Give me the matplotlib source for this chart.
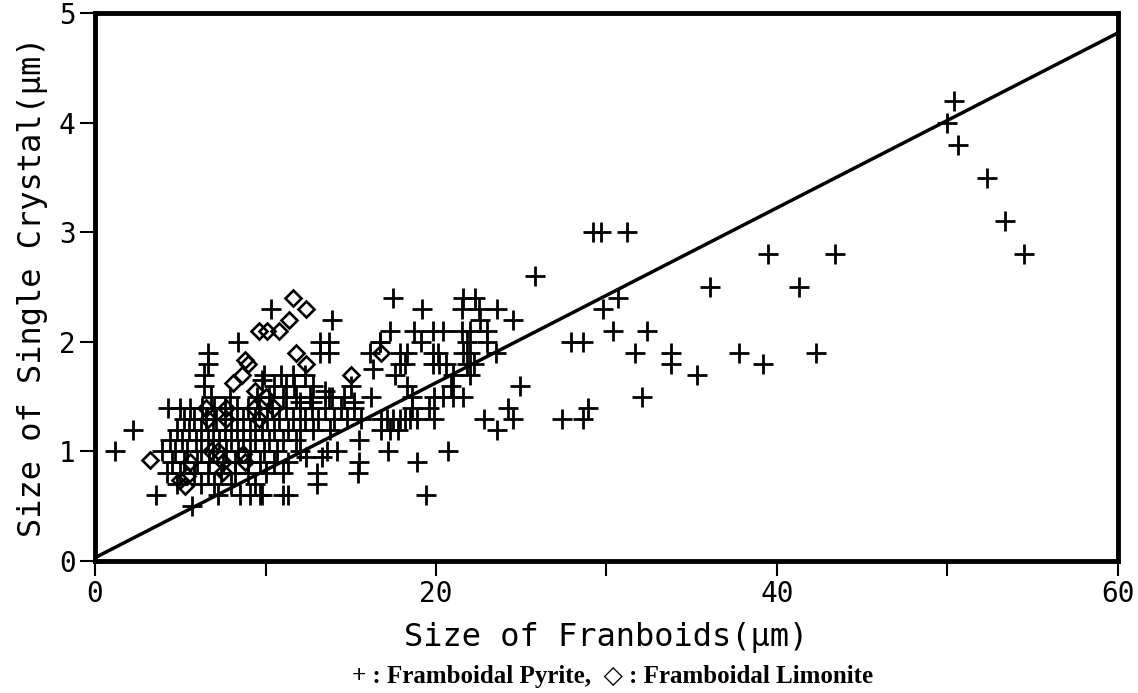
import matplotlib
matplotlib.use("Agg")
import matplotlib.pyplot as plt

# ---------------- data ----------------
pyrite_x = [
    1.2, 2.2, 3.6, 5.7,
    25.8, 29.2, 29.7, 31.2, 36.1, 30.7, 29.8, 30.4, 32.4, 31.7, 33.8, 33.8, 35.3, 32.1,
    27.9, 28.6, 27.4, 28.6, 28.9, 37.8, 39.5, 43.4, 41.3, 39.2, 42.3,
    53.4, 54.5, 50.4, 50.0, 50.6, 52.3,
    17.5, 21.6, 22.3, 19.2, 21.5, 22.5, 23.6, 24.5, 22.6,
    17.3, 18.7, 19.8, 20.4, 21.5, 22.0, 23.0,
    16.7, 19.1, 21.8, 23.0,
    17.9, 18.3, 19.8, 20.1, 21.6, 22.0, 23.5,
    17.9, 18.2, 19.8, 20.2, 20.6, 21.8, 22.2,
    17.6, 21.0, 22.0,
    18.3, 20.9, 24.9,
    18.6, 19.9, 20.4, 21.0, 21.6,
    18.6, 19.6, 24.2,
    16.8, 17.1, 17.5, 17.9, 18.2, 18.5, 18.9, 19.9, 22.8, 24.5,
    16.8, 17.3, 17.8, 23.6,
    15.5, 17.2, 20.7, 18.9, 15.5, 15.4, 19.4,
    10.3, 13.9, 13.2, 13.7, 13.2, 13.7, 16.1, 16.7, 16.3,
    12.3, 11.7, 13.5, 13.7, 12.7, 12.0, 15.0, 15.2, 16.2,
    14.2, 13.6, 13.0, 13.0, 11.3, 9.7, 12.4, 13.3, 12.0,
    8.4, 6.6, 6.6,
    6.4, 9.9, 10.9, 11.6,
    6.4, 9.8, 10.5, 11.2, 12.8,
    6.8, 7.9, 9.5, 10.2, 11.0, 11.8, 12.6, 13.9, 14.6,
    4.3, 5.0, 5.6, 6.3, 7.0, 7.6, 8.3, 9.0, 9.6, 10.4, 11.2, 12.0, 12.7, 13.5, 14.4, 15.2,
    5.2, 5.8, 6.5, 7.1, 8.0, 8.7, 9.4, 10.1, 10.8, 11.6, 12.3, 13.1, 14.0, 14.8, 15.6,
    4.8, 5.5, 6.2, 6.9, 7.6, 8.3, 9.1, 9.8, 10.5, 11.3, 12.0, 12.8, 13.8,
    4.4, 5.1, 5.9, 6.6, 7.3, 8.0, 8.7, 9.4, 10.2, 11.0, 11.8,
    3.9, 4.7, 5.4, 6.2, 6.9, 7.7, 8.4, 9.1, 9.9, 10.7,
    4.5, 5.2, 6.0, 6.7, 7.5, 8.2, 9.0, 9.7, 10.5, 11.3,
    4.2, 5.0, 5.8, 6.6, 7.4, 8.2, 9.0, 10.0, 11.0,
    4.8, 6.2, 7.0, 8.0, 9.4,
    7.2, 8.5, 9.1, 9.8, 11.0,
]
pyrite_y = [
    1.0, 1.2, 0.6, 0.5,
    2.6, 3.0, 3.0, 3.0, 2.5, 2.4, 2.3, 2.1, 2.1, 1.9, 1.9, 1.8, 1.7, 1.5,
    2.0, 2.0, 1.3, 1.3, 1.4, 1.9, 2.8, 2.8, 2.5, 1.8, 1.9,
    3.1, 2.8, 4.2, 4.0, 3.8, 3.5,
    2.4, 2.4, 2.4, 2.3, 2.3, 2.3, 2.3, 2.2, 2.2,
    2.1, 2.1, 2.1, 2.1, 2.1, 2.1, 2.1,
    2.0, 2.0, 2.0, 2.0,
    1.9, 1.9, 1.9, 1.9, 1.9, 1.9, 1.9,
    1.8, 1.8, 1.8, 1.8, 1.8, 1.8, 1.8,
    1.7, 1.7, 1.7,
    1.6, 1.6, 1.6,
    1.5, 1.5, 1.5, 1.5, 1.5,
    1.4, 1.4, 1.4,
    1.3, 1.3, 1.3, 1.3, 1.3, 1.3, 1.3, 1.3, 1.3, 1.3,
    1.2, 1.2, 1.2, 1.2,
    1.1, 1.0, 1.0, 0.9, 0.9, 0.8, 0.6,
    2.3, 2.2, 2.0, 2.0, 1.9, 1.9, 1.9, 2.0, 1.75,
    1.7, 1.6, 1.55, 1.5, 1.45, 1.45, 1.6, 1.45, 1.5,
    1.0, 1.0, 0.8, 0.7, 0.6, 0.6, 0.95, 0.95, 1.0,
    2.0, 1.9, 1.8,
    1.7, 1.7, 1.7, 1.7,
    1.6, 1.65, 1.6, 1.6, 1.6,
    1.5, 1.5, 1.5, 1.5, 1.5, 1.5, 1.5, 1.5, 1.5,
    1.4, 1.4, 1.4, 1.4, 1.4, 1.4, 1.4, 1.4, 1.4, 1.4, 1.4, 1.4, 1.4, 1.4, 1.4, 1.4,
    1.3, 1.3, 1.3, 1.3, 1.3, 1.3, 1.3, 1.3, 1.3, 1.3, 1.3, 1.3, 1.3, 1.3, 1.3,
    1.2, 1.2, 1.2, 1.2, 1.2, 1.2, 1.2, 1.2, 1.2, 1.2, 1.2, 1.2, 1.2,
    1.1, 1.1, 1.1, 1.1, 1.1, 1.1, 1.1, 1.1, 1.1, 1.1, 1.1,
    1.0, 1.0, 1.0, 1.0, 1.0, 1.0, 1.0, 1.0, 1.0, 1.0,
    0.9, 0.9, 0.9, 0.9, 0.9, 0.9, 0.9, 0.9, 0.9, 0.9,
    0.8, 0.8, 0.8, 0.8, 0.8, 0.8, 0.8, 0.8, 0.8,
    0.7, 0.7, 0.7, 0.7, 0.7,
    0.6, 0.6, 0.6, 0.6, 0.6,
]

limonite_x = [11.6, 12.4, 9.6, 10.1, 10.8, 11.4, 11.8, 12.4, 15.0, 16.8, 8.8, 9.0,
              8.1, 8.6, 6.5, 7.7, 7.7, 3.2, 5.0, 5.4, 5.6, 7.5, 7.5, 8.8, 8.7, 6.6,
              9.3, 10.0, 9.4, 10.5, 7.2, 6.8, 9.6, 5.3]
limonite_y = [2.4, 2.3, 2.1, 2.1, 2.1, 2.2, 1.9, 1.8, 1.7, 1.9, 1.83, 1.8,
              1.62, 1.7, 1.4, 1.4, 1.3, 0.92, 0.74, 0.78, 0.9, 0.81, 0.9, 0.9, 0.98, 1.3,
              1.4, 1.5, 1.55, 1.4, 1.0, 1.0, 1.3, 0.68]

line_x = [0, 60]
line_y = [0.03, 4.82]

x_major = [0, 20, 40, 60]
x_minor = [10, 30, 50]
y_major = [0, 1, 2, 3, 4, 5]

xlabel = "Size of Franboids(μm)"
ylabel = "Size of Single Crystal(μm)"
note = "+ : Framboidal Pyrite,  ◇ : Framboidal Limonite"

# ---------------- figure ----------------
fig = plt.figure(figsize=(11.38, 6.93), dpi=100)
ax = fig.add_axes([0.0835, 0.1905, 0.8989, 0.7905])

ax.plot(line_x, line_y, color="black", lw=2.5, zorder=2)
ax.plot(pyrite_x, pyrite_y, linestyle="none", marker="+", markersize=14,
        markeredgewidth=2.0, color="black", zorder=3)
ax.plot(limonite_x, limonite_y, linestyle="none", marker="D", markersize=8,
        markeredgewidth=1.9, markerfacecolor="none", markeredgecolor="black", zorder=4)

ax.set_xlim(0, 60)
ax.set_ylim(0, 5)
ax.set_xticks(x_major)
ax.set_xticks(x_minor, minor=True)
ax.set_yticks(y_major)

for s in ax.spines.values():
    s.set_linewidth(3.5)

mono = "DejaVu Sans Mono"
ax.tick_params(axis="both", which="both", direction="out", length=11, width=1.5,
               labelsize=20)
ax.tick_params(axis="x", pad=3)
ax.tick_params(axis="y", pad=3)
for lbl in ax.get_xticklabels() + ax.get_yticklabels():
    lbl.set_fontfamily(mono)

ax.set_xlabel(xlabel, fontsize=23, fontfamily=mono, labelpad=10)
ax.set_ylabel(ylabel, fontsize=23, fontfamily=mono, labelpad=8)

fig.text(0.538, 0.024, note, ha="center", va="center", fontsize=18,
         family=["Liberation Serif", "DejaVu Sans"], fontweight="bold")

fig.savefig("out.png", dpi=100)
